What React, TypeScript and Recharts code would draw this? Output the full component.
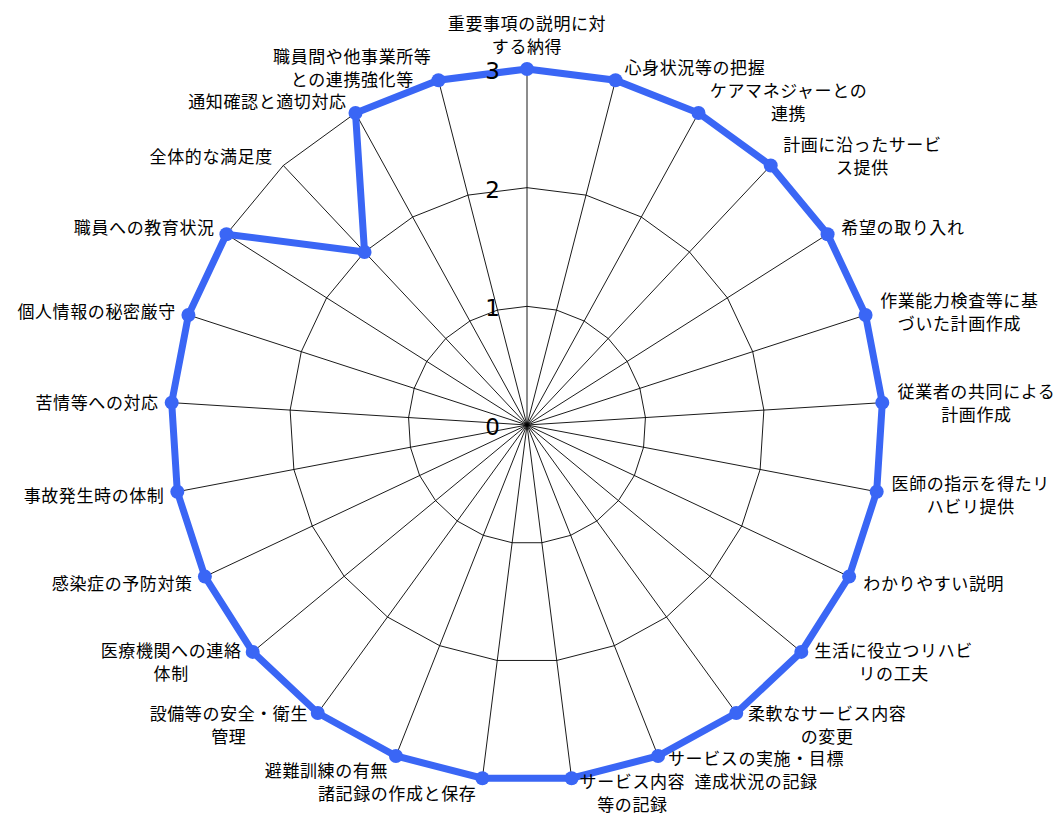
import { RadarChart, Radar, PolarGrid, PolarAngleAxis, PolarRadiusAxis } from "recharts";

const CATEGORIES = [
  "重要事項の説明に対\nする納得",
  "心身状況等の把握",
  "ケアマネジャーとの\n連携",
  "計画に沿ったサービ\nス提供",
  "希望の取り入れ",
  "作業能力検査等に基\nづいた計画作成",
  "従業者の共同による\n計画作成",
  "医師の指示を得たリ\nハビリ提供",
  "わかりやすい説明",
  "生活に役立つリハビ\nリの工夫",
  "柔軟なサービス内容\nの変更",
  "サービスの実施・目標\n達成状況の記録",
  "サービス内容\n等の記録",
  "諸記録の作成と保存",
  "避難訓練の有無",
  "設備等の安全・衛生\n管理",
  "医療機関への連絡\n体制",
  "感染症の予防対策",
  "事故発生時の体制",
  "苦情等への対応",
  "個人情報の秘密厳守",
  "職員への教育状況",
  "全体的な満足度",
  "通知確認と適切対応",
  "職員間や他事業所等\nとの連携強化等",
];

const SCORES = [3, 3, 3, 3, 3, 3, 3, 3, 3, 3, 3, 3, 3, 3, 3, 3, 3, 3, 3, 3, 3, 3, 2, 3, 3];

const RADIUS_TICKS = [0, 1, 2, 3];

const data = CATEGORIES.map((name, i) => ({ name, score: SCORES[i] }));

const BLUE = "#3a66f5";
const LABEL_FONT = "'Noto Sans CJK JP', 'Noto Sans', sans-serif";
const LABEL_SIZE = 17;
const CHAR_W = 17.6;
const LINE_H = 23;

const AngleTick = (props: any) => {
  const { x, y, textAnchor, payload } = props;
  const lines: string[] = String(payload.value).split("\n");
  const ang = ((payload.coordinate ?? 0) * Math.PI) / 180;
  const sin = Math.sin(ang);
  const n = lines.length;
  const maxChars = Math.max(...lines.map((l) => l.length));
  const w = maxChars * CHAR_W;

  let cxText = x;
  let cyBlock = y - sin * 6;
  if (textAnchor === "start") cxText = x + 7 + w / 2;
  else if (textAnchor === "end") cxText = x - 5 - w / 2;
  else cyBlock = y - (sin > 0 ? 1 : -1) * ((n * LINE_H) / 2 + 4);

  return (
    <text
      textAnchor="middle"
      fontFamily={LABEL_FONT}
      fontSize={LABEL_SIZE}
      letterSpacing={0.6}
      fill="#000"
    >
      {lines.map((l, i) => (
        <tspan key={i} x={cxText} y={cyBlock - ((n - 1) * LINE_H) / 2 + i * LINE_H} dominantBaseline="central">
          {l}
        </tspan>
      ))}
    </text>
  );
};

const RadiusTick = (props: any) => {
  const { x, y, payload } = props;
  return (
    <text
      x={x - 27}
      y={y + 2}
      textAnchor="end"
      dominantBaseline="central"
      fontFamily="'DejaVu Sans', sans-serif"
      fontSize={23}
      fill="#000"
    >
      {payload.value}
    </text>
  );
};

const Dot = (props: any) => {
  const { cx, cy, index } = props;
  return <circle key={`d-${index}`} cx={cx} cy={cy} r={7} fill={BLUE} />;
};

export default function App() {
  return (
    <div style={{ width: 1059, height: 813, background: "#fff" }}>
      <style>{`body{margin:0}`}</style>
      <RadarChart width={1059} height={813} data={data} cx={527} cy={425} outerRadius={356}>
        <PolarGrid stroke="#000" strokeWidth={0.9} gridType="polygon" />
        <PolarAngleAxis dataKey="name" tick={<AngleTick />} tickLine={false} axisLine={false} />
        <Radar
          dataKey="score"
          stroke={BLUE}
          strokeWidth={7}
          fill="none"
          fillOpacity={0}
          dot={Dot}
          isAnimationActive={false}
        />
        <PolarRadiusAxis
          angle={90}
          domain={[0, 3]}
          ticks={RADIUS_TICKS as any}
          tickCount={4}
          axisLine={false}
          tickLine={false}
          tick={<RadiusTick />}
        />
      </RadarChart>
    </div>
  );
}
